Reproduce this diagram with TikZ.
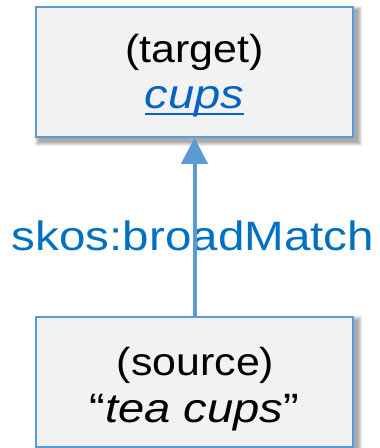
\documentclass[tikz,border=0pt]{standalone}
\usepackage{fontspec}
\usepackage{graphicx}
\setmainfont{Liberation Sans}
\usetikzlibrary{arrows.meta,backgrounds}
\definecolor{boxfill}{HTML}{F2F2F2}
\definecolor{boxline}{HTML}{5B9BD5}
\definecolor{labelblue}{HTML}{0070C0}
\definecolor{linkblue}{HTML}{0563C1}
\newcommand\hwide[1]{\scalebox{1.10}[1]{#1}}
\newcommand\nwide[1]{\scalebox{1.15}[1]{#1}}
\newcommand\lwide[1]{\scalebox{1.16}[1]{#1}}
\tikzset{
  conceptbox/.style={draw=boxline, fill=boxfill, line width=1.5pt, minimum width=317pt, minimum height=130pt, inner sep=0pt},
  boxtext/.style={font=\fontsize{39}{39}\selectfont, inner sep=0pt, anchor=base},
  nametext/.style={font=\fontsize{41}{41}\selectfont, inner sep=0pt, anchor=base},
  linktext/.style={nametext, text=linkblue},
  relarrow/.style={draw=boxline, line width=4pt, -{Triangle[length=26pt,width=26pt]}},
  reltext/.style={font=\fontsize{41}{41}\selectfont, text=labelblue, inner sep=0pt, anchor=base},
  boxshadow/.style={fill=black, opacity=0.08},
}
\begin{document}
\begin{tikzpicture}[x=1pt,y=-1pt]
\useasboundingbox (0,0) rectangle (380,448);
\node[conceptbox] (target) at (194.5,72) {};
\node[conceptbox] (source) at (194.5,382) {};
\node[boxtext] (targetlabel) at (194.5,62) {\hwide{(target)}};
\node[linktext] (targetname) at (194.5,108) {\nwide{\textit{cups}}};
\draw[linkblue, line width=2.2pt] ([yshift=-6pt]targetname.base west) -- ([yshift=-6pt]targetname.base east);
\node[boxtext] (sourcelabel) at (195.5,375) {\hwide{(source)}};
\node[nametext] (sourcename) at (194.5,422) {\nwide{“\textit{tea cups}”}};
\node[reltext] (rel) at (193,250) {\lwide{skos:broadMatch}};
\draw[relarrow] (source.north) -- (target.south);
\begin{scope}[on background layer]
  \foreach \r in {0,1,2,3,4}{
    \fill[boxshadow] ([shift={(4-\r,4-\r)}]target.north west) rectangle ([shift={(4+\r,4+\r)}]target.south east);
    \fill[boxshadow] ([shift={(4-\r,4-\r)}]source.north west) rectangle ([shift={(4+\r,4+\r)}]source.south east);
  }
\end{scope}
\end{tikzpicture}
\end{document}
